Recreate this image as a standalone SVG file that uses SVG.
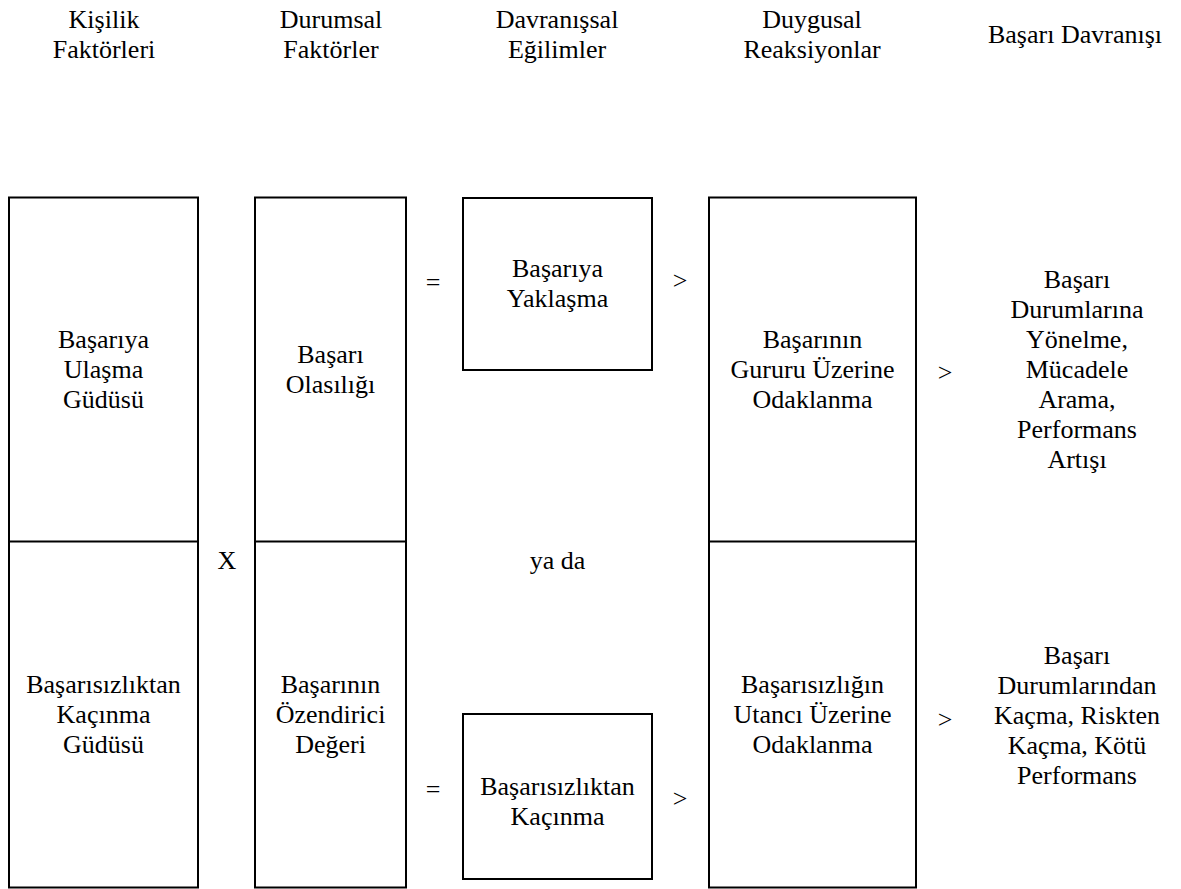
<svg xmlns="http://www.w3.org/2000/svg" width="1181" height="889" viewBox="0 0 1181 889">
<defs>
<style>
  rect.box { fill: #ffffff; stroke: #000000; stroke-width: 2; }
  line.div { stroke: #000000; stroke-width: 2; }
  text { font-family: 'Liberation Serif', 'Times New Roman', serif; font-size: 26px; fill: #000000; text-anchor: middle; }
</style>
</defs>
<rect x="0" y="0" width="1181" height="889" fill="#ffffff"/>

<g id="headers">
  <text x="104" y="28">Kişilik</text>
  <text x="104" y="58">Faktörleri</text>
  <text x="331" y="28">Durumsal</text>
  <text x="331" y="58">Faktörler</text>
  <text x="557" y="28">Davranışsal</text>
  <text x="557" y="58">Eğilimler</text>
  <text x="812" y="28">Duygusal</text>
  <text x="812" y="58">Reaksiyonlar</text>
  <text x="1075" y="43">Başarı Davranışı</text>
</g>

<g id="node-kisilik">
  <rect class="box" x="9" y="197.5" width="189" height="690"/>
  <line class="div" x1="9" y1="541.5" x2="198" y2="541.5"/>
  <text x="103.5" y="348">Başarıya</text>
  <text x="103.5" y="378">Ulaşma</text>
  <text x="103.5" y="408">Güdüsü</text>
  <text x="103.5" y="693">Başarısızlıktan</text>
  <text x="103.5" y="723">Kaçınma</text>
  <text x="103.5" y="753">Güdüsü</text>
</g>

<g id="node-durumsal">
  <rect class="box" x="255" y="197.5" width="151" height="690"/>
  <line class="div" x1="255" y1="541.5" x2="406" y2="541.5"/>
  <text x="330.5" y="363">Başarı</text>
  <text x="330.5" y="393">Olasılığı</text>
  <text x="330.5" y="693">Başarının</text>
  <text x="330.5" y="723">Özendirici</text>
  <text x="330.5" y="753">Değeri</text>
</g>

<g id="node-yaklasma">
  <rect class="box" x="463" y="198" width="189" height="172"/>
  <text x="557.5" y="277">Başarıya</text>
  <text x="557.5" y="307">Yaklaşma</text>
</g>

<g id="node-kacinma">
  <rect class="box" x="463" y="714" width="189" height="165"/>
  <text x="557.5" y="795">Başarısızlıktan</text>
  <text x="557.5" y="825">Kaçınma</text>
</g>

<g id="node-duygusal">
  <rect class="box" x="709" y="197.5" width="207" height="690"/>
  <line class="div" x1="709" y1="541.5" x2="916" y2="541.5"/>
  <text x="812.5" y="348">Başarının</text>
  <text x="812.5" y="378">Gururu Üzerine</text>
  <text x="812.5" y="408">Odaklanma</text>
  <text x="812.5" y="693">Başarısızlığın</text>
  <text x="812.5" y="723">Utancı Üzerine</text>
  <text x="812.5" y="753">Odaklanma</text>
</g>

<g id="node-davranis-olumlu">
  <text x="1077" y="288">Başarı</text>
  <text x="1077" y="318">Durumlarına</text>
  <text x="1077" y="348">Yönelme,</text>
  <text x="1077" y="378">Mücadele</text>
  <text x="1077" y="408">Arama,</text>
  <text x="1077" y="438">Performans</text>
  <text x="1077" y="468">Artışı</text>
</g>

<g id="node-davranis-olumsuz">
  <text x="1077" y="664">Başarı</text>
  <text x="1077" y="694">Durumlarından</text>
  <text x="1077" y="724">Kaçma, Riskten</text>
  <text x="1077" y="754">Kaçma, Kötü</text>
  <text x="1077" y="784">Performans</text>
</g>

<g id="connectors">
  <text x="227" y="569">X</text>
  <text x="557.5" y="569">ya da</text>
  <text x="433" y="291">=</text>
  <text x="433" y="798">=</text>
  <text x="680" y="289">&gt;</text>
  <text x="680" y="807">&gt;</text>
  <text x="945" y="381">&gt;</text>
  <text x="945" y="728">&gt;</text>
</g>
</svg>
